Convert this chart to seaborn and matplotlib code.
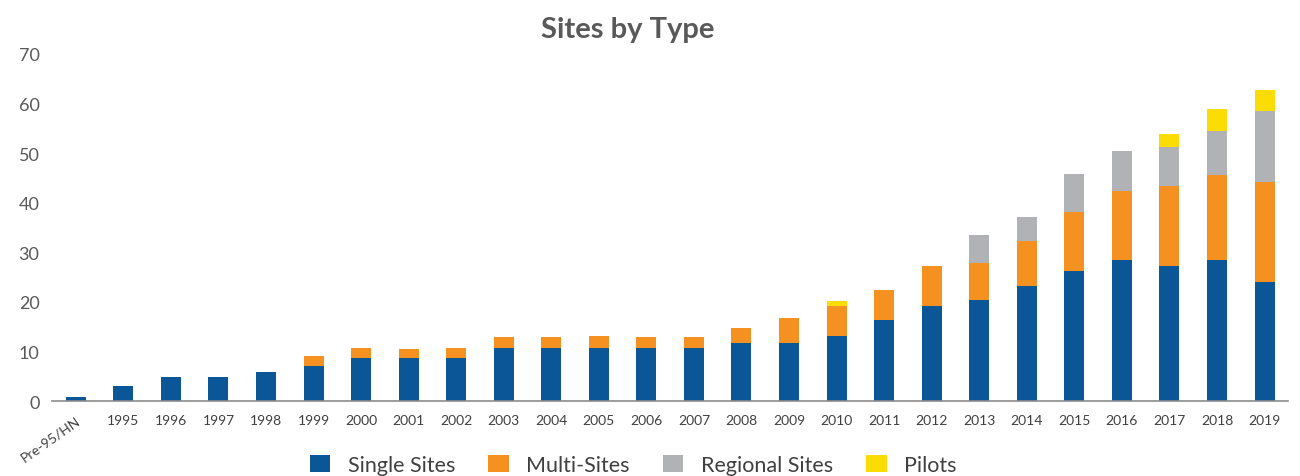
import numpy as np
import pandas as pd
import matplotlib
matplotlib.use("Agg")
import matplotlib.pyplot as plt
from matplotlib.patches import Patch
import seaborn as sns

years = ["Pre-95/HN", "1995", "1996", "1997", "1998", "1999", "2000", "2001", "2002",
         "2003", "2004", "2005", "2006", "2007", "2008", "2009", "2010", "2011",
         "2012", "2013", "2014", "2015", "2016", "2017", "2018", "2019"]
single = [0.9, 3, 4.8, 4.8, 5.8, 7, 8.6, 8.6, 8.6, 10.8, 10.8, 10.8, 10.8, 10.8,
          11.8, 11.8, 13.2, 16.3, 19.1, 20.3, 23.3, 26.3, 28.5, 27.3, 28.5, 24.1]
multi = [0, 0, 0, 0, 0, 2, 2.2, 2.0, 2.2, 2.2, 2.2, 2.4, 2.2, 2.2,
         3.0, 5.0, 5.9, 6.0, 8.1, 7.5, 8.9, 11.9, 13.8, 16.0, 17.0, 20.0]
regional = [0] * 19 + [5.6, 5.0, 7.5, 8.2, 8.0, 8.9, 14.3]
pilots = [0] * 16 + [1.1] + [0] * 6 + [2.5, 4.5, 4.4]

series = ["Single Sites", "Multi-Sites", "Regional Sites", "Pilots"]
colors = ["#0B5696", "#F59121", "#B1B2B5", "#FBDC05"]

df = pd.DataFrame({"Year": years, "Single Sites": single, "Multi-Sites": multi,
                   "Regional Sites": regional, "Pilots": pilots})
# cumulative tops for stacking
cum = df[series].cumsum(axis=1)
cum["Year"] = df["Year"]

sns.set_style("white")
plt.rcParams["font.family"] = ["Lato", "DejaVu Sans"]

fig = plt.figure(figsize=(13, 4.77), dpi=100)
ax = fig.add_axes([0.04, 0.157, 0.951, 0.728])

# draw tallest first, then overlay lower layers
for s, c in zip(series[::-1], colors[::-1]):
    sns.barplot(data=cum, x="Year", y=s, order=years, color=c, width=0.42,
                saturation=1, ax=ax, linewidth=0)

ax.set_xlim(-0.5, 25.5)
ax.set_ylim(0, 70)
ax.set_yticks(range(0, 71, 10))
ax.set_xlabel("")
ax.set_ylabel("")
for sp in ["top", "right", "left"]:
    ax.spines[sp].set_visible(False)
ax.spines["bottom"].set_color("#8c8c8c")
ax.spines["bottom"].set_linewidth(1.2)
ax.tick_params(axis="y", length=0, labelsize=13, labelcolor="#595959", pad=9)
ax.tick_params(axis="x", length=0, labelsize=10, labelcolor="#404040", pad=9)
labels = ax.get_xticklabels()
labels[0].set_rotation(35)
labels[0].set_ha("right")
labels[0].set_rotation_mode("anchor")

fig.suptitle("Sites by Type", x=0.483, y=0.965, fontsize=21, fontweight="bold",
             color="#595959")

handles = [Patch(facecolor=c, edgecolor="none") for c in colors]
fig.legend(handles, series, loc="lower center", bbox_to_anchor=(0.487, -0.038),
           ncol=4, frameon=False, fontsize=15.5, handlelength=0.95, handleheight=0.8,
           columnspacing=1.55, handletextpad=0.8, labelcolor="#404040")

fig.savefig("out.png", dpi=100)
